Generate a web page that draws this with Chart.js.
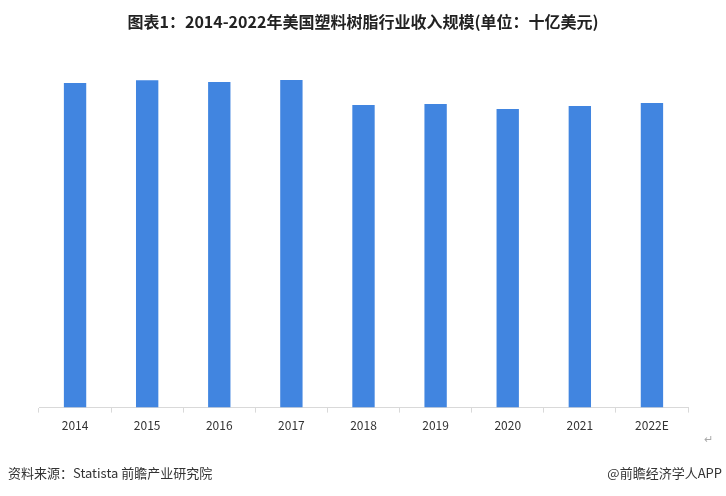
<!DOCTYPE html>
<html>
<head>
<meta charset="utf-8">
<script src="https://cdn.jsdelivr.net/npm/chart.js@4"></script>
<style>
  html, body { margin: 0; padding: 0; background: #fff; }
  #wrap { position: relative; width: 726px; height: 496px; overflow: hidden; font-family: "Noto Sans CJK SC", sans-serif; }
  #title { position: absolute; left: 0; top: 9px; width: 726px; text-align: center; font-size: 16px; font-weight: bold; color: #222; }
  #chart { position: absolute; left: 0; top: 0; }
  .note { position: absolute; font-size: 13px; color: #333; }
</style>
</head>
<body>
<div id="wrap">
  <canvas id="chart" width="726" height="496"></canvas>
  <div id="title">图表1：2014-2022年美国塑料树脂行业收入规模(单位：十亿美元)</div>
  <div class="note" style="left:8px; top:463px;">资料来源：Statista 前瞻产业研究院</div>
  <div class="note" style="right:4px; top:463px;">@前瞻经济学人APP</div>
  <div class="note" style="left:704px; top:430px; color:#aaa; font-size:11px;">↵</div>
</div>
<script>
// years on the x axis
const years = ['2014', '2015', '2016', '2017', '2018', '2019', '2020', '2021', '2022E'];
// revenue, billion USD (no axis in source)
const revenue = [81.1, 81.8, 81.4, 81.9, 75.6, 75.9, 74.6, 75.4, 76.1];

const barColor = '#4185E0';

const ctx = document.getElementById('chart').getContext('2d');
new Chart(ctx, {
  type: 'bar',
  data: {
    labels: years,
    datasets: [{
      label: '收入规模',
      data: revenue,
      backgroundColor: barColor,
      borderWidth: 0,
      barPercentage: 0.31,
      categoryPercentage: 1
    }]
  },
  options: {
    responsive: false,
    animation: false,
    layout: {
      padding: { left: 39, right: 38, top: 67.5, bottom: 57 }
    },
    plugins: {
      legend: { display: false },
      tooltip: { enabled: false }
    },
    scales: {
      x: {
        grid: {
          drawOnChartArea: false,
          color: '#d9d9d9',
          tickLength: 5,
          offset: true
        },
        border: { color: '#d9d9d9' },
        ticks: {
          color: '#333',
          font: { size: 12, family: 'Noto Sans CJK SC' },
          padding: 6
        }
      },
      y: {
        display: false,
        min: 0,
        max: 85
      }
    }
  }
});
</script>
</body>
</html>
